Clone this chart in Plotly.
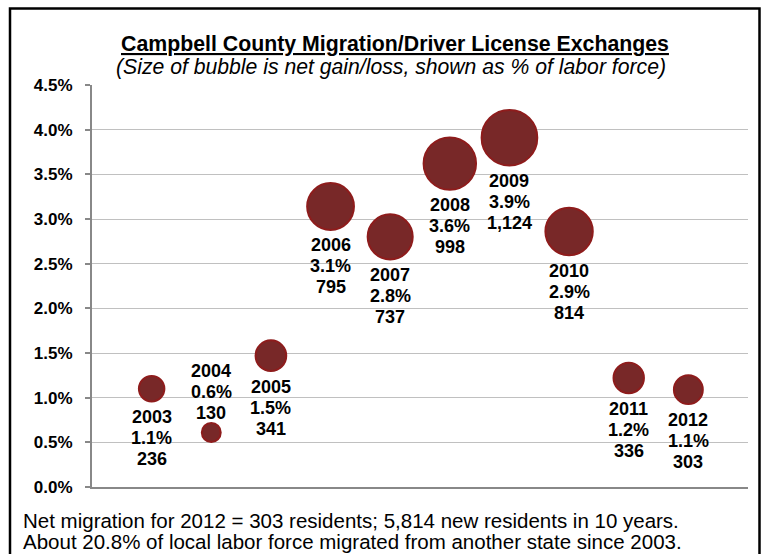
import plotly.graph_objects as go

# Net in-migration (driver license exchanges), Campbell County
years = [2003, 2004, 2005, 2006, 2007, 2008, 2009, 2010, 2011, 2012]
pct_labor_force = [1.10, 0.61, 1.47, 3.14, 2.80, 3.62, 3.91, 2.86, 1.22, 1.09]
new_residents = [236, 130, 341, 795, 737, 998, 1124, 814, 336, 303]
labels_above = [2004]

y_ticks = [0.0, 0.5, 1.0, 1.5, 2.0, 2.5, 3.0, 3.5, 4.0, 4.5]

title_text = "Campbell County Migration/Driver License Exchanges"
subtitle_text = "(Size of bubble is net gain/loss, shown as % of labor force)"
note_lines = [
    "Net migration for 2012 = 303 residents; 5,814 new residents in 10 years.",
    "About 20.8% of local labor force migrated from another state since 2003.",
]

W, H = 762, 554
ML, MR, MT, MB = 92, 14, 85, 67
PW, PH = W - ML - MR, H - MT - MB

def px_x(px):
    return (px - ML) / PW

def px_y(py):
    return (H - MB - py) / PH

FONT = "Arial, Liberation Sans, sans-serif"
FILL = "#782828"
EDGE = "#8E1C1C"
SCALE = 1.66          # bubble diameter per sqrt(residents)
LINE_W = 2
LABEL_PITCH = 21      # px between data-label lines
LABEL_GAP = 14.5      # bubble edge to nearest label line centre

x = [yr - 2002 for yr in years]

fig = go.Figure(
    go.Scatter(
        x=x,
        y=pct_labor_force,
        mode="markers",
        marker=dict(
            size=new_residents,
            sizemode="area",
            sizeref=2 / SCALE ** 2,
            color=FILL,
            line=dict(color=EDGE, width=LINE_W),
            opacity=1,
        ),
        hoverinfo="skip",
        showlegend=False,
    )
)

annotations = []
for xi, yr, p, n in zip(x, years, pct_labor_force, new_residents):
    r = SCALE * n ** 0.5 / 2 + LINE_W / 2
    above = yr in labels_above
    lines = [str(yr), f"{p:.1f}%", f"{n:,}"]
    for k, txt in enumerate(lines):
        if above:
            shift = r + LABEL_GAP - 5 + LABEL_PITCH * (len(lines) - 1 - k)
        else:
            shift = -(r + LABEL_GAP + LABEL_PITCH * k)
        annotations.append(dict(
            x=xi, y=p, xref="x", yref="y",
            text=f"<b>{txt}</b>",
            showarrow=False,
            font=dict(family=FONT, size=18, color="#000000"),
            xanchor="center", yanchor="middle",
            yshift=shift,
        ))

annotations += [
    dict(x=px_x(395), y=px_y(44), xref="paper", yref="paper",
         text=f"<b><u>{title_text}</u></b>",
         showarrow=False, font=dict(family=FONT, size=21.3, color="#000000"),
         xanchor="center", yanchor="middle"),
    dict(x=px_x(391), y=px_y(67), xref="paper", yref="paper",
         text=f"<i>{subtitle_text}</i>",
         showarrow=False, font=dict(family=FONT, size=21.2, color="#000000"),
         xanchor="center", yanchor="middle"),
]
for line, cy in zip(note_lines, (520, 541)):
    annotations.append(dict(
        x=px_x(21), y=px_y(cy), xref="paper", yref="paper",
        text=line, showarrow=False,
        font=dict(family=FONT, size=20.5, color="#000000"),
        xanchor="left", yanchor="middle", align="left",
    ))

fig.update_layout(
    width=W, height=H,
    margin=dict(l=ML, r=MR, t=MT, b=MB, pad=0),
    paper_bgcolor="#FFFFFF",
    plot_bgcolor="#FFFFFF",
    font=dict(family=FONT, color="#000000"),
    annotations=annotations,
    shapes=[dict(
        type="rect", xref="paper", yref="paper",
        x0=px_x(10), x1=px_x(759.5), y0=px_y(600), y1=px_y(8.5),
        line=dict(color="#000000", width=2.5), layer="above",
    )],
    xaxis=dict(
        range=[0, 11], showgrid=False, zeroline=False,
        showticklabels=False, ticks="",
        showline=True, linecolor="#888888", linewidth=2,
        fixedrange=True,
    ),
    yaxis=dict(
        range=[0, 4.5], tickvals=y_ticks,
        ticktext=[f"<b>{v:.1f}%</b>" for v in y_ticks],
        tickfont=dict(family=FONT, size=17, color="#000000"),
        ticks="outside", ticklen=5, tickcolor="#888888", tickwidth=1.5,
        showgrid=True, gridcolor="#C0C0C0", gridwidth=1,
        zeroline=False, showline=True, linecolor="#888888", linewidth=2,
        ticklabelstandoff=9,
        fixedrange=True,
    ),
)

fig.write_html("out.html", config={"displayModeBar": False})
